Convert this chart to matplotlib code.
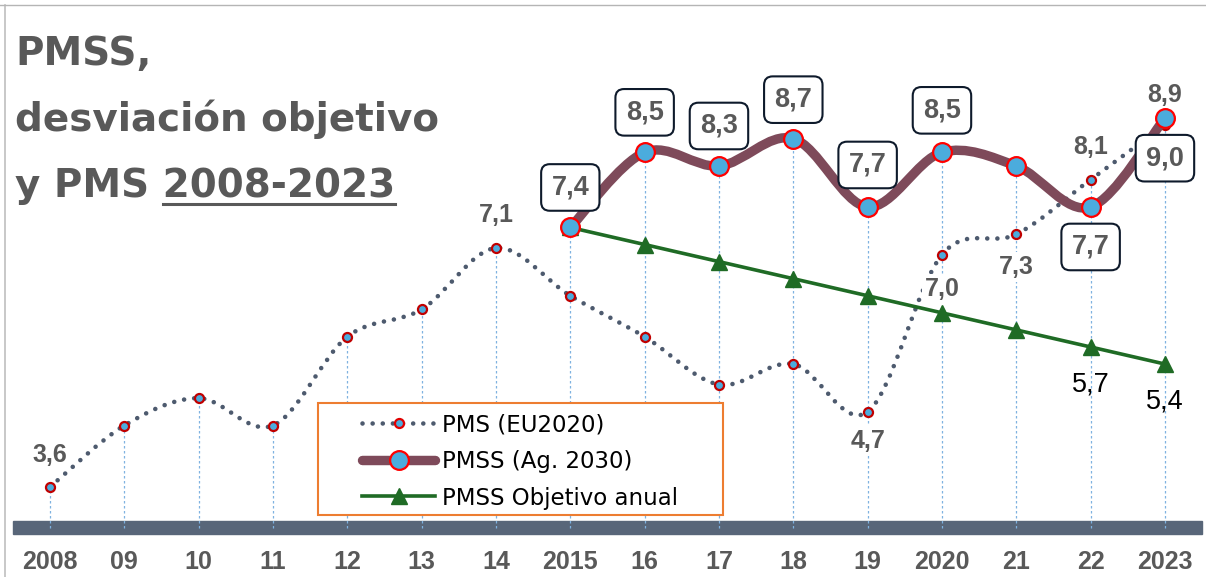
import matplotlib
matplotlib.use('Agg')
import matplotlib.pyplot as plt
import numpy as np
from matplotlib.path import Path
from matplotlib.patches import PathPatch, Rectangle
from matplotlib.lines import Line2D

plt.rcParams['font.family'] = ['DejaVu Sans']

years = list(range(2008, 2024))
year_labels = ['2008', '09', '10', '11', '12', '13', '14', '2015',
               '16', '17', '18', '19', '2020', '21', '22', '2023']
pms = [3.6, 4.5, 4.9, 4.5, 5.8, 6.2, 7.1, 6.4, 5.8, 5.1, 5.4, 4.7, 7.0, 7.3, 8.1, 8.9]

pmss_years = list(range(2015, 2024))
pmss = [7.4, 8.5, 8.3, 8.7, 7.7, 8.5, 8.3, 7.7, 9.0]
target = [7.4, 7.15, 6.9, 6.65, 6.4, 6.15, 5.9, 5.65, 5.4]

# which points get a value label, and the vertical offset in px (up = +)
pms_labels = {2008: 32, 2014: 33, 2019: -29, 2020: -34, 2021: -33, 2022: 33, 2023: 30}
pmss_labels = {2015: 40, 2016: 40, 2017: 40, 2018: 39, 2019: 42, 2020: 42, 2022: -40, 2023: -40}
target_labels = {2022: -38, 2023: -37}

BLUE = '#4BACDD'
MAROON = '#7E4A5A'
GREEN = '#1F6B25'
DOTS = '#4D5A6E'
GREY = '#595959'

W, H = 1206, 577
fig = plt.figure(figsize=(W / 100, H / 100), dpi=100)
ax = fig.add_axes([0, 0, 1, 1])
ax.set_xlim(2008 - 50 / 74.33, 2008 + (W - 50) / 74.33)
ax.set_ylim(3.6 - (H - 487) / 68.3, 3.6 + 487 / 68.3)
ax.axis('off')


def fmt(v):
    return f'{v:.1f}'.replace('.', ',')


def smooth_path(x, y):
    x = np.asarray(x, float)
    y = np.asarray(y, float)
    n = len(x)
    verts = [(x[0], y[0])]
    codes = [Path.MOVETO]
    for i in range(n - 1):
        p0 = np.array([x[max(i - 1, 0)], y[max(i - 1, 0)]])
        p1 = np.array([x[i], y[i]])
        p2 = np.array([x[i + 1], y[i + 1]])
        p3 = np.array([x[min(i + 2, n - 1)], y[min(i + 2, n - 1)]])
        verts += [tuple(p1 + (p2 - p0) / 6), tuple(p2 - (p3 - p1) / 6), tuple(p2)]
        codes += [Path.CURVE4] * 3
    return Path(verts, codes)


# axis band
ax.axhspan(2.91, 3.10, xmin=13 / W, xmax=1202 / W, color='#586679', zorder=1)

# drop lines
tops = []
for yr, v in zip(years, pms):
    if yr in pmss_years:
        v = max(v, pmss[pmss_years.index(yr)])
    tops.append(v)
ax.vlines(years, 3.0, tops, color='#7FB2E0', lw=0.9, linestyle=(0, (2, 2)), zorder=2)

# PMS dotted smoothed line
ax.add_patch(PathPatch(smooth_path(years, pms), fill=False, edgecolor=DOTS, lw=3.3,
                       linestyle=(0, (0.01, 2.2)), capstyle='round', zorder=3))
ax.plot(years, pms, 'o', ms=6.5, mfc=BLUE, mec='#C00000', mew=1.6, zorder=3.5)

for yr, off in pms_labels.items():
    ax.annotate(fmt(pms[years.index(yr)]), (yr, pms[years.index(yr)]),
                xytext=(0, off * 0.72), textcoords='offset points', ha='center', va='center',
                fontsize=18, fontweight='bold', color=GREY, family='Liberation Sans',
                bbox=dict(boxstyle='square,pad=0.12', fc='white', ec='none'), zorder=4)

# target line
ax.plot(pmss_years, target, color=GREEN, lw=2.6, marker='^', ms=11, mfc=GREEN, mec=GREEN, zorder=5)
for yr, off in target_labels.items():
    v = target[pmss_years.index(yr)]
    ax.annotate(fmt(v), (yr, v), xytext=(0, off * 0.72), textcoords='offset points',
                ha='center', va='center', fontsize=19.5, color='black', family='Liberation Sans', zorder=5)

# PMSS thick smoothed line
ax.add_patch(PathPatch(smooth_path(pmss_years, pmss), fill=False, edgecolor=MAROON, lw=6.8,
                       capstyle='round', joinstyle='round', zorder=6))
ax.plot(pmss_years, pmss, 'o', ms=13.5, mfc=BLUE, mec='#FF0000', mew=1.6, zorder=7)

for yr, off in pmss_labels.items():
    v = pmss[pmss_years.index(yr)]
    ax.annotate(fmt(v), (yr, v), xytext=(0, off * 0.72), textcoords='offset points',
                ha='center', va='center', fontsize=19.5, fontweight='bold', color=GREY,
                family='Liberation Sans',
                bbox=dict(boxstyle='round,pad=0.38,rounding_size=0.32', fc='white', ec='#0E1A2B', lw=1.5),
                zorder=8)

# x labels
for yr, lab in zip(years, year_labels):
    ax.text(yr, 2.50, lab, ha='center', va='center', fontsize=18, fontweight='bold',
            color=GREY, family='Liberation Sans')

# legend
fig.patches.append(Rectangle((318 / W, 1 - 515 / H), 405 / W, 112 / H, transform=fig.transFigure,
                             fc='white', ec='#ED7D31', lw=1.5, zorder=9))
handles = [
    Line2D([], [], color=DOTS, lw=3.3, linestyle=(0, (0.01, 2.2)), dash_capstyle='round',
           marker='o', ms=6.5, mfc=BLUE, mec='#E00000', mew=1.6),
    Line2D([], [], color=MAROON, lw=6.8, solid_capstyle='round',
           marker='o', ms=13.5, mfc=BLUE, mec='#FF0000', mew=1.6),
    Line2D([], [], color=GREEN, lw=2.6, marker='^', ms=11, mfc=GREEN, mec=GREEN),
]
leg = fig.legend(handles, ['PMS (EU2020)', 'PMSS (Ag. 2030)', 'PMSS Objetivo anual'],
                 loc='upper left', bbox_to_anchor=(362 / W, 1 - 413 / H), frameon=False,
                 fontsize=16.5, handlelength=3.2, handletextpad=0.3, labelspacing=0.6,
                 borderpad=0, borderaxespad=0)
leg.set_zorder(10)

# title
tkw = dict(fontsize=28, fontweight='bold', color=GREY, va='baseline', ha='left')
fig.text(15 / W, 1 - 65 / H, 'PMSS,', **tkw)
fig.text(15 / W, 1 - 131 / H, 'desviación objetivo', **tkw)
t3 = fig.text(15 / W, 1 - 197 / H, 'y PMS 2008-2023', **tkw)
r = fig.canvas.get_renderer()
full = t3.get_window_extent(r)
part = fig.text(0, 0, '2008-2023', alpha=0, **tkw).get_window_extent(r)
uy = 1 - 204 / H
fig.add_artist(Line2D([(full.x1 - part.width) / W, full.x1 / W], [uy, uy],
                      transform=fig.transFigure, color=GREY, lw=2.2))

# slide frame edges
fig.add_artist(Line2D([5 / W, 5 / W], [0, 1 - 5 / H], transform=fig.transFigure, color='#BFBFBF', lw=1.2))
fig.add_artist(Line2D([0, 1], [1 - 5 / H, 1 - 5 / H], transform=fig.transFigure, color='#B5B5B5', lw=1.0))

fig.savefig('out.png', dpi=100)
plt.close()
